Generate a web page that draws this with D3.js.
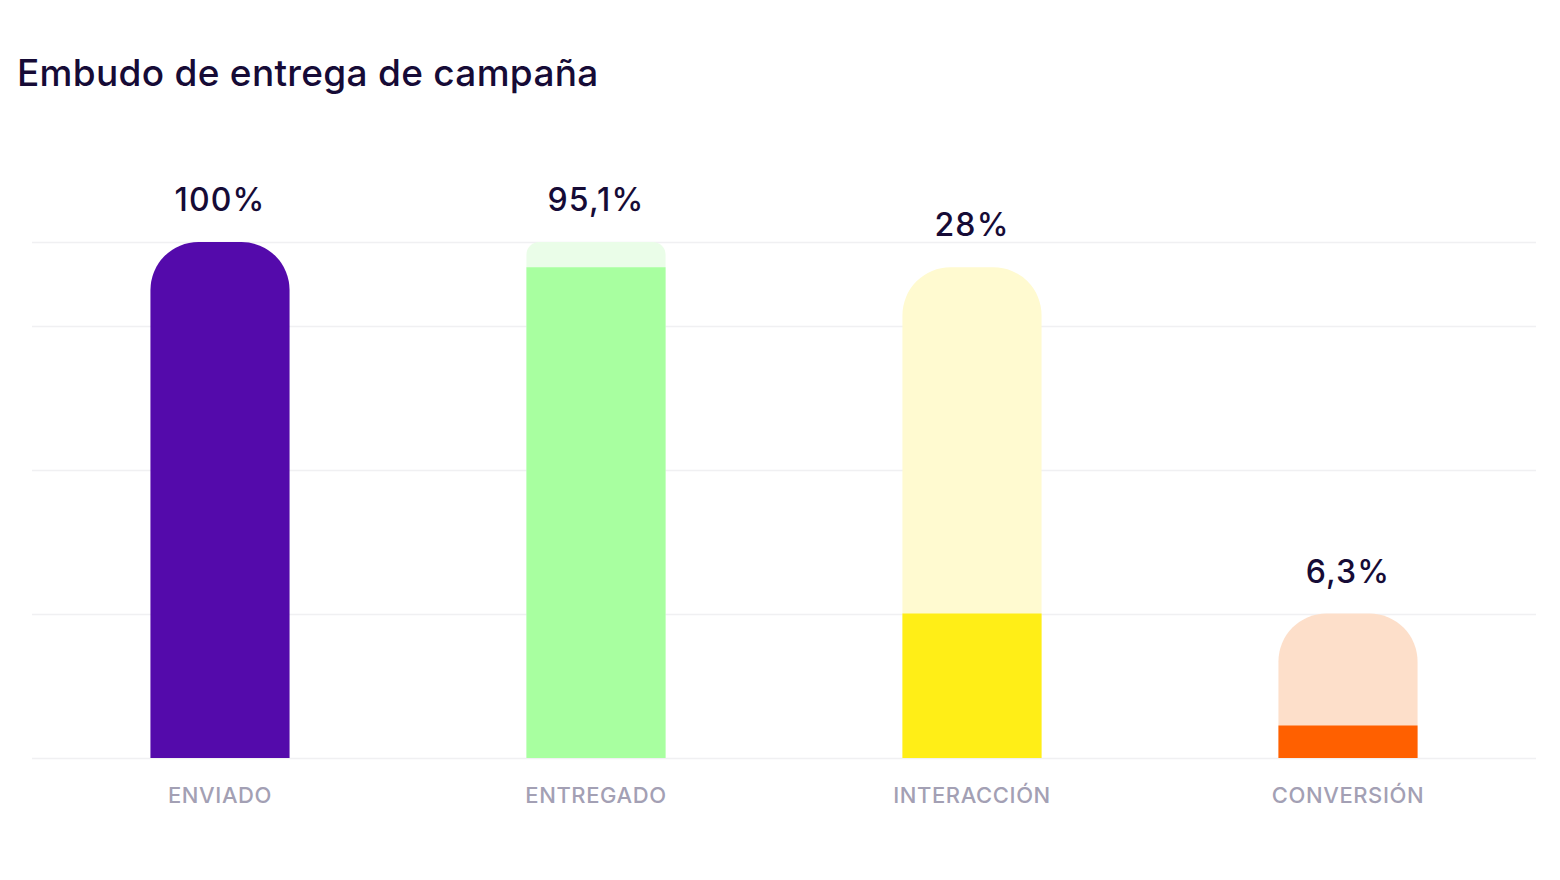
<!DOCTYPE html>
<html>
<head>
<meta charset="utf-8">
<script src="https://cdn.jsdelivr.net/npm/d3@7"></script>
<style>
  html, body { margin: 0; padding: 0; background: #fff; }
  svg text { font-family: Inter, "Noto Sans", sans-serif; }
</style>
</head>
<body>
<div id="chart"></div>
<script>
var stages = ["ENVIADO", "ENTREGADO", "INTERACCIÓN", "CONVERSIÓN"];
var values = [100, 95.1, 28, 6.3];
var valueLabels = ["100%", "95,1%", "28%", "6,3%"];
var gridValues = [0, 27.9, 55.8, 83.7, 100];
var solidColors = ["#540aab", "#a8ffa0", "#ffee17", "#ff6000"];
var lightColors = ["#540aab", "#eafde8", "#fffad0", "#fddfca"];

var W = 1560, H = 880;
var margin = {top: 242, right: 24, bottom: 122, left: 32},
    width = W - margin.left - margin.right,
    height = H - margin.top - margin.bottom;

var svg = d3.select("#chart")
  .append("svg")
    .attr("width", W)
    .attr("height", H)

svg.append("text")
  .attr("x", 17)
  .attr("y", 86)
  .attr("fill", "#160b36")
  .attr("font-size", 37)
  .attr("font-weight", 500)
  .attr("letter-spacing", 0.3)
  .text("Embudo de entrega de campaña");

var g = svg.append("g")
  .attr("transform", "translate(" + margin.left + "," + margin.top + ")");

var x = d3.scaleBand()
  .domain(stages)
  .range([0, width])
  .paddingInner(0.63)
  .paddingOuter(0.315);

var y = d3.scaleLinear()
  .domain([0, 100])
  .range([height, 0]);

// grid lines
g.append("g")
  .call(d3.axisLeft(y).tickValues(gridValues).tickSize(-width).tickFormat(""))
  .call(function(a) { a.select(".domain").remove(); })
  .selectAll("line")
    .attr("stroke", "#f0f0f2")
    .attr("stroke-width", 1.5);

// bar with rounded top corners
function arcRounded(x0, y0, w, h, r) {
  r = Math.min(r, h, w / 2);
  return "M" + x0 + "," + (y0 + h) +
    "V" + (y0 + r) +
    "A" + r + "," + r + " 0 0 1 " + (x0 + r) + "," + y0 +
    "H" + (x0 + w - r) +
    "A" + r + "," + r + " 0 0 1 " + (x0 + w) + "," + (y0 + r) +
    "V" + (y0 + h) + "Z";
}

var data = stages.map(function(s, i) {
  return {stage: s, value: values[i], prev: i > 0 ? values[i - 1] : null,
          label: valueLabels[i], i: i};
});

var R = 48;

// background (previous stage) bars
g.selectAll("path.bg")
  .data(data.filter(function(d) { return d.prev !== null; }))
  .enter()
  .append("path")
    .attr("class", "bg")
    .attr("fill", function(d) { return lightColors[d.i]; })
    .attr("d", function(d) {
      var gap = y(d.value) - y(d.prev);
      return arcRounded(x(d.stage), y(d.prev), x.bandwidth(), height - y(d.prev), Math.min(R, gap / 2));
    });

// solid bars
g.selectAll("path.fg")
  .data(data)
  .enter()
  .append("path")
    .attr("class", "fg")
    .attr("fill", function(d) { return solidColors[d.i]; })
    .attr("d", function(d) {
      var r = d.prev === null ? R : 0;
      return arcRounded(x(d.stage), y(d.value), x.bandwidth(), height - y(d.value), r);
    });

// value labels
g.selectAll("text.val")
  .data(data)
  .enter()
  .append("text")
    .attr("class", "val")
    .attr("x", function(d) { return x(d.stage) + x.bandwidth() / 2; })
    .attr("y", function(d) { return y(d.prev === null ? d.value : d.prev) - 31; })
    .attr("text-anchor", "middle")
    .attr("fill", "#160b36")
    .attr("font-size", 32)
    .attr("font-weight", 500)
    .attr("letter-spacing", 1.2)
    .text(function(d) { return d.label; });

// x axis labels
var xAxis = g.append("g")
  .attr("transform", "translate(0," + height + ")")
  .call(d3.axisBottom(x).tickSize(0).tickPadding(29));
xAxis.select(".domain").remove();
xAxis.selectAll("text")
  .attr("fill", "#a3a0b4")
  .attr("font-size", 22)
  .attr("font-weight", 500)
  .attr("letter-spacing", 0.6)
  .style("font-family", "Inter, 'Noto Sans', sans-serif");
</script>
</body>
</html>
